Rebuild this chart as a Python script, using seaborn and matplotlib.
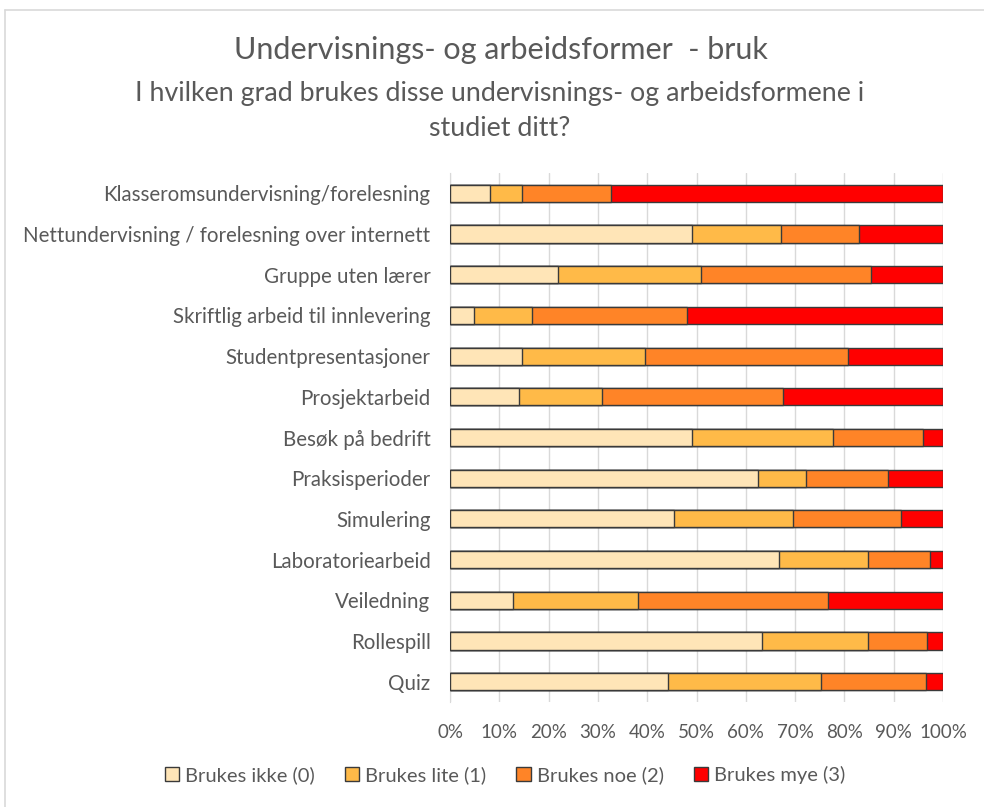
import numpy as np
import pandas as pd
import matplotlib
matplotlib.use("Agg")
import matplotlib.pyplot as plt
import seaborn as sns
from matplotlib.lines import Line2D
from matplotlib.patches import Patch

# data (percent of respondents)
categories = [
    "Klasseromsundervisning/forelesning",
    "Nettundervisning / forelesning over internett",
    "Gruppe uten lærer",
    "Skriftlig arbeid til innlevering",
    "Studentpresentasjoner",
    "Prosjektarbeid",
    "Besøk på bedrift",
    "Praksisperioder",
    "Simulering",
    "Laboratoriearbeid",
    "Veiledning",
    "Rollespill",
    "Quiz",
]
ikke = [8.2, 49.0, 21.9, 4.9, 14.7, 14.0, 49.1, 62.4, 45.5, 66.7, 12.8, 63.3, 44.3]
lite = [6.5, 18.2, 29.0, 11.7, 24.8, 16.9, 28.6, 9.8, 24.1, 18.1, 25.3, 21.4, 30.9]
noe = [17.9, 15.7, 34.4, 31.4, 41.2, 36.7, 18.3, 16.7, 21.9, 12.6, 38.6, 12.0, 21.3]
mye = [67.4, 17.1, 14.7, 52.0, 19.3, 32.4, 4.0, 11.1, 8.5, 2.6, 23.3, 3.3, 3.5]
series = ["Brukes ikke (0)", "Brukes lite (1)", "Brukes noe (2)", "Brukes mye (3)"]
colors = ["#FFE5B7", "#FFBA48", "#FF8427", "#FF0000"]

df = pd.DataFrame({"cat": categories, series[0]: ikke, series[1]: lite,
                   series[2]: noe, series[3]: mye})
vals = df[series].to_numpy()
cum = vals.cumsum(axis=1)
cum = cum / cum[:, -1:] * 100

sns.set_style("white")
plt.rcParams["font.family"] = ["Lato", "DejaVu Sans"]
txt = "#595959"

fig = plt.figure(figsize=(9.84, 8.07), dpi=100)
ax = fig.add_axes([450 / 984, 1 - 702 / 807, 493 / 984, 529 / 807])

# stacked bars: draw cumulative totals from the back to the front
for i in range(3, -1, -1):
    sns.barplot(x=cum[:, i], y=categories, orient="h", color=colors[i],
                width=0.42, edgecolor="#3A3A3A", linewidth=1.0, ax=ax,
                zorder=3, saturation=1)

ax.set_xlim(0, 100)
ax.set_ylim(12.5, -0.5)
ax.set_xticks(np.arange(0, 101, 10))
ax.set_xticklabels([f"{t}%" for t in range(0, 101, 10)])
ax.grid(axis="x", color="#D9D9D9", linewidth=1.0, zorder=0)
ax.grid(axis="y", visible=False)
for s in ["top", "right", "bottom"]:
    ax.spines[s].set_visible(False)
ax.spines["left"].set_color("#D9D9D9")
ax.tick_params(axis="x", length=0, labelsize=13.5, labelcolor=txt, pad=16)
ax.tick_params(axis="y", length=0, labelsize=14.8, labelcolor=txt, pad=14)
ax.set_xlabel("")
ax.set_ylabel("")

fig.text(0.509, 1 - 50 / 807, "Undervisnings- og arbeidsformer  - bruk",
         ha="center", va="center", fontsize=22, color=txt)
fig.text(0.508, 1 - 93 / 807, "I hvilken grad brukes disse undervisnings- og arbeidsformene i",
         ha="center", va="center", fontsize=19.3, color=txt)
fig.text(0.508, 1 - 128 / 807, "studiet ditt?",
         ha="center", va="center", fontsize=19.3, color=txt)

handles = [Patch(facecolor=c, edgecolor="#3A3A3A", linewidth=1.0) for c in colors]
fig.legend(handles, series, loc="center", bbox_to_anchor=(505 / 984, 1 - 775 / 807),
           ncol=4, frameon=False, fontsize=14.5, labelcolor=txt,
           handlelength=0.7, handleheight=0.7, handletextpad=0.3, columnspacing=1.5)

# outer chart frame
fig.add_artist(Line2D([5 / 984, 1], [1 - 10 / 807, 1 - 10 / 807], color="#D9D9D9", lw=1.2))
fig.add_artist(Line2D([5 / 984, 5 / 984], [0, 1 - 10 / 807], color="#D9D9D9", lw=1.2))

fig.savefig("out.png", dpi=100)
